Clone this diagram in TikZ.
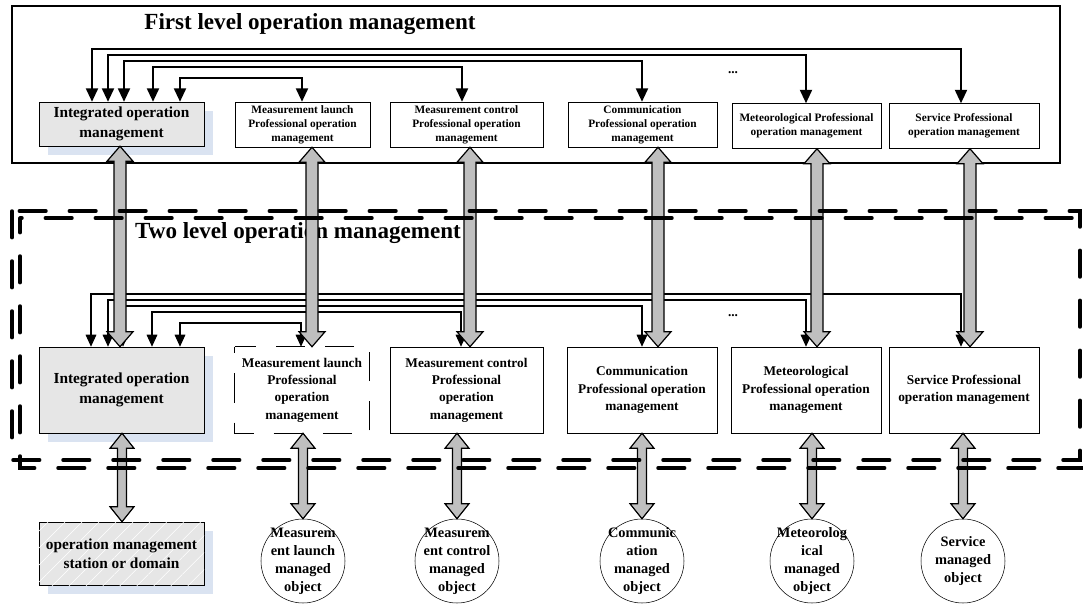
\documentclass[tikz,border=0pt]{standalone}
\usepackage{fontspec}
\setmainfont{Liberation Serif}
\usetikzlibrary{positioning, arrows.meta, calc, shadows, patterns.meta}
\definecolor{boxgray}{HTML}{E6E6E6}
\definecolor{shadeblue}{HTML}{DAE3F1}
\definecolor{pipegray}{HTML}{BFBFBF}

\tikzset{
  pmbox/.style={draw, fill=white, align=center, inner sep=1pt, minimum height=33.75pt,
    font=\fontsize{8.5}{10.5}\selectfont\bfseries},
  lowbox/.style={draw, fill=white, align=center, inner sep=1pt, minimum height=64.5pt,
    font=\fontsize{10}{13}\selectfont\bfseries},
  intbox/.style={draw, fill=boxgray, align=center, inner sep=1pt, minimum width=123.75pt,
    font=\fontsize{11.5}{14.5}\selectfont\bfseries,
    general shadow={fill=shadeblue, shadow xshift=6.5pt, shadow yshift=-6.5pt}},
  objcircle/.style={draw, fill=white, circle, minimum size=63pt, inner sep=0pt},
  objtext/.style={align=center, font=\fontsize{10.8}{13.5}\selectfont\bfseries},
  leveltitle/.style={font=\fontsize{17.3}{20}\selectfont\bfseries},
  toplink/.style={line width=1.4pt, {Triangle[length=10pt, width=9pt]}-{Triangle[length=10pt, width=9pt]}},
  lowlink/.style={line width=0.8pt, {Triangle[length=9pt, width=8pt]}-{Triangle[length=9pt, width=8pt]}},
  bigarrow/.style={draw, line width=0.9pt, fill=pipegray, line join=miter},
  levelframe/.style={line width=2.6pt, line cap=round, dash pattern=on 20pt off 17.5pt}
}

\newcommand{\dblarrow}[4]{%
  \path (#1) coordinate (da) (#2) coordinate (db);
  \draw[bigarrow] (da) -- ($(da)+(#4,15)$) -- ($(da)+(#3,15)$) -- ($(db)+(#3,-15)$)
    -- ($(db)+(#4,-15)$) -- (db) -- ($(db)+(-#4,-15)$) -- ($(db)+(-#3,-15)$)
    -- ($(da)+(-#3,15)$) -- ($(da)+(-#4,15)$) -- cycle;}

\begin{document}
\begin{tikzpicture}[x=0.75pt, y=-0.75pt]
\useasboundingbox (0,0) rectangle (1083,604);

% first level
\draw[line width=0.8pt] (12,6) rectangle (1060,163);
\node[leveltitle] (title1) at (310,24) {First level operation management};
\node[font=\fontsize{10}{12}\selectfont\bfseries] (dots1) at (733,73) {...};

\node[intbox, minimum height=33pt] (T1) at (121.5,124) {Integrated operation\\management};
\node[pmbox, minimum width=101.25pt] (T2) at (302.5,124.5) {Measurement launch\\Professional operation\\management};
\node[pmbox, minimum width=114.75pt] (T3) at (466.5,124.5) {Measurement control\\Professional operation\\management};
\node[pmbox, minimum width=111.75pt] (T4) at (642.5,124.5) {Communication\\Professional operation\\management};
\node[pmbox, minimum width=111.75pt] (T5) at (806.5,126) {Meteorological Professional\\operation management};
\node[pmbox, minimum width=112.5pt] (T6) at (964,126) {Service Professional\\operation management};

\foreach \t/\sx/\lv/\tx in {T6/92/49/961, T5/108/55/806, T4/124/61/642, T3/153/67/462, T2/180/78/302}
  \draw[toplink] (T1.north -| \sx,0) -- (\sx,\lv) -| (\t.north -| \tx,0);

% second level
\node[leveltitle] (title2) at (298,233) {Two level operation management};
\node[font=\fontsize{10}{12}\selectfont\bfseries] (dots2) at (733,316) {...};

\node[intbox, minimum height=64.5pt] (B1) at (121.5,390) {Integrated operation\\management};
\node[lowbox, minimum width=100.5pt, draw=none] (B2) at (302,390) {Measurement launch\\Professional\\operation\\management};
\draw[line width=0.7pt, dash pattern=on 22pt off 15pt, dash phase=-20pt] (B2.north west) rectangle (B2.south east);
\node[lowbox, minimum width=114.75pt] (B3) at (466.5,390) {Measurement control\\Professional\\operation\\management};
\node[lowbox, minimum width=112.5pt] (B4) at (642,390) {Communication\\Professional operation\\management};
\node[lowbox, minimum width=112.5pt] (B5) at (806,390) {Meteorological\\Professional operation\\management};
\node[lowbox, minimum width=112.5pt] (B6) at (964,390) {Service Professional\\operation management};

\foreach \t/\sx/\lv/\tx in {B6/91/294/961, B5/108/300/806, B4/123/306/642, B3/152/312/461, B2/180/323/301}
  \draw[lowlink] (B1.north -| \sx,0) -- (\sx,\lv) -| (\t.north -| \tx,0);

% managed objects
\node[intbox, minimum height=47.25pt,
  postaction={pattern={Lines[angle=45, distance=9pt, line width=0.4pt]}, pattern color=white}]
  (S) at (121.5,553.5) {operation management\\station or domain};
\node[objcircle, label={[objtext]center:Measurem\\ent launch\\managed\\object}] (o2) at (303,561) {};
\node[objcircle, label={[objtext]center:Measurem\\ent control\\managed\\object}] (o3) at (457,561) {};
\node[objcircle, label={[objtext]center:Communic\\ation\\managed\\object}] (o4) at (642,561) {};
\node[objcircle, label={[objtext]center:Meteorolog\\ical\\managed\\object}] (o5) at (812,561) {};
\node[objcircle, label={[objtext]center:Service\\managed\\object}] (o6) at (963,561) {};

\foreach \a/\b/\x in {T1/B1/120, T2/B2/312, T3/B3/470, T4/B4/658, T5/B5/817, T6/B6/970}
  \dblarrow{\a.south -| \x,0}{\b.north -| \x,0}{6}{13};
\foreach \a/\b/\x in {B1/S/122, B2/o2/303, B3/o3/457, B4/o4/642, B5/o5/812, B6/o6/963}
  \dblarrow{\a.south -| \x,0}{\b.north -| \x,0}{4.5}{12};

\draw[levelframe] (12,211) rectangle (1080,460);
\draw[levelframe, dash phase=9pt] (20,218) rectangle (1090,468);
\end{tikzpicture}
\end{document}
